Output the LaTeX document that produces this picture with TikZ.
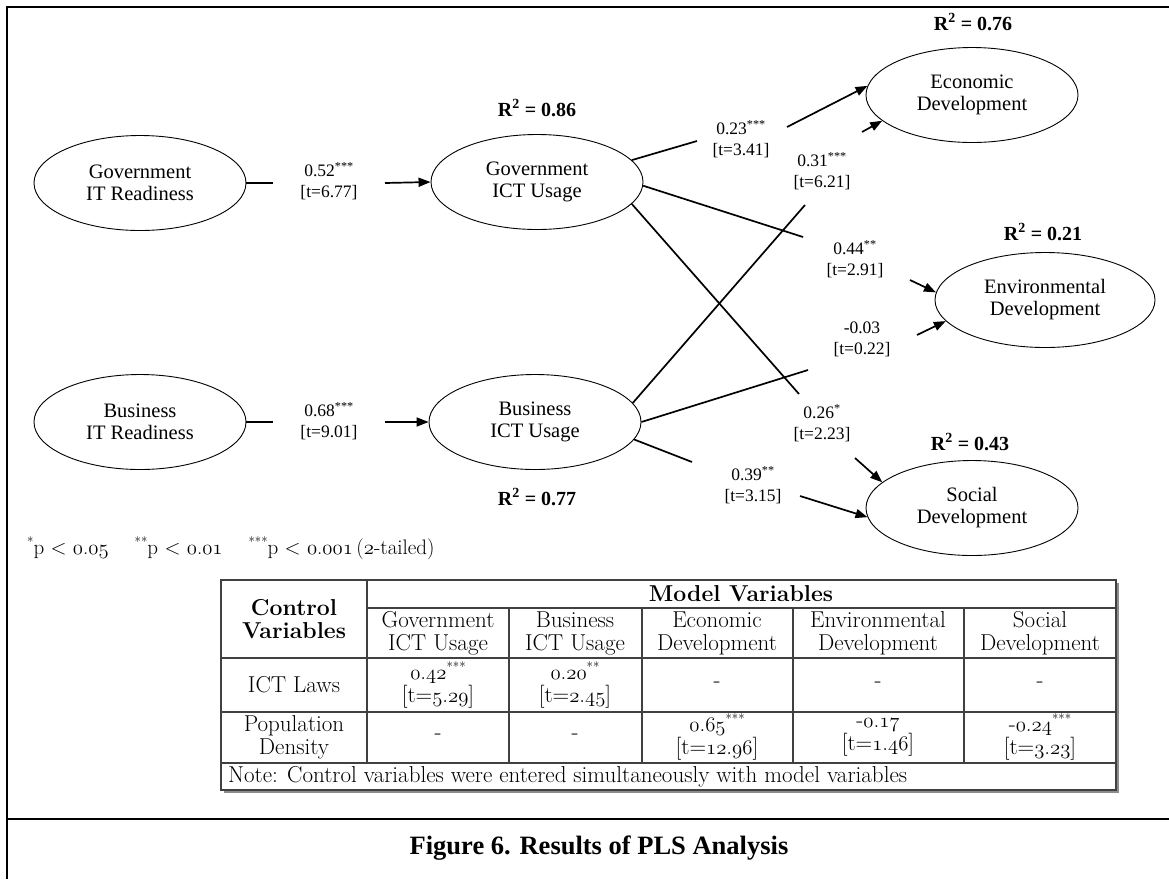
\documentclass[tikz,border=0pt]{standalone}
\usepackage{fontspec}
\newfontfamily\tnr{Liberation Serif}
\usetikzlibrary{shapes.geometric,arrows.meta}
\newcommand\osd[1]{{\fontencoding{OML}\fontfamily{cmm}\fontseries{m}\fontshape{it}\fontsize{20.74}{23}\selectfont #1}}
\newcommand\sst[1]{\raisebox{0.9ex}{\fontsize{13}{13}\selectfont #1}}
\begin{document}
\begin{tikzpicture}[x=1pt,y=-1pt,
 lv/.style={ellipse,draw,line width=0.9pt,minimum width=212pt,minimum height=95pt,inner sep=0pt,align=center,font=\tnr\fontsize{20.5}{22}\selectfont},
 coef/.style={align=center,inner sep=0pt,font=\tnr\fontsize{17.5}{21}\selectfont},
 rsq/.style={inner sep=0pt,font=\tnr\bfseries\fontsize{20}{22}\selectfont},
 seg/.style={line width=1.7pt},
 arr/.style={line width=1.7pt,-{Triangle[length=12pt,width=9pt]}},
 cell/.style={align=center,inner sep=0pt,font=\fontsize{23}{23}\selectfont},
 bcell/.style={align=center,inner sep=0pt,font=\bfseries\fontsize{23}{23}\selectfont},
 tline/.style={draw=black!75,line width=1.4pt},
 frame/.style={line width=2pt}]
\useasboundingbox (0,0) rectangle (1169,879);
% frame
\draw[frame] (7,879) -- (7,7) -- (1169,7);
\draw[frame] (7,819) -- (1169,819);
% latent variables
\node[lv] (govit) at (140,183) {Government\\IT Readiness};
\node[lv] (busit) at (140,422) {Business\\IT Readiness};
\node[lv] (govict) at (537,182) {Government\\ICT Usage};
\node[lv] (busict) at (535,422) {Business\\ICT Usage};
\node[lv] (econ) at (972,95) {Economic\\Development};
\node[lv,minimum width=220pt] (env) at (1045,300) {Environmental\\Development};
\node[lv] (soc) at (972,508) {Social\\Development};
% R squared
\node[rsq] (r76) at (973,22) {R\textsuperscript{2} = 0.76};
\node[rsq] (r86) at (537,108) {R\textsuperscript{2} = 0.86};
\node[rsq] (r21) at (1043,232) {R\textsuperscript{2} = 0.21};
\node[rsq] (r43) at (970,442) {R\textsuperscript{2} = 0.43};
\node[rsq] (r77) at (537,497) {R\textsuperscript{2} = 0.77};
% coefficients
\node[coef] (c52) at (329,181) {0.52\textsuperscript{***}\\{}[t=6.77]};
\node[coef] (c68) at (329,421) {0.68\textsuperscript{***}\\{}[t=9.01]};
\node[coef] (c23) at (741,139) {0.23\textsuperscript{***}\\{}[t=3.41]};
\node[coef] (c31) at (822,171) {0.31\textsuperscript{***}\\{}[t=6.21]};
\node[coef] (c44) at (855,259) {0.44\textsuperscript{**}\\{}[t=2.91]};
\node[coef] (c03) at (862,339) {-0.03\\{}[t=0.22]};
\node[coef] (c26) at (822,423) {0.26\textsuperscript{*}\\{}[t=2.23]};
\node[coef] (c39) at (753,485) {0.39\textsuperscript{**}\\{}[t=3.15]};
% free ends
\coordinate (a1) at (273,183); \coordinate (a2) at (385,183);
\coordinate (b1) at (273,422); \coordinate (b2) at (385,422);
\coordinate (s23) at (697,141); \coordinate (t23) at (787,127);
\coordinate (s31) at (805,205); \coordinate (t31) at (862,132);
\coordinate (s44) at (803,237); \coordinate (t44) at (910,280);
\coordinate (s03) at (808,370); \coordinate (t03) at (917,335);
\coordinate (s26) at (799,394); \coordinate (t26) at (855,458);
\coordinate (s39) at (692,462); \coordinate (t39) at (800,496);
% connectors
\draw[seg] (govit.east) -- (a1); \draw[arr] (a2) -- (govict.west);
\draw[seg] (busit.east) -- (b1); \draw[arr] (b2) -- (busict.west);
\draw[seg] (govict.13) -- (s23); \draw[arr] (t23) -- (econ.175);
\draw[seg] (busict.11) -- (s31); \draw[arr] (t31) -- (econ.196);
\draw[seg] (govict.358) -- (s44); \draw[arr] (t44) -- (env.176);
\draw[seg] (busict.0) -- (s03); \draw[arr] (t03) -- (env.192);
\draw[seg] (govict.347) -- (s26); \draw[arr] (t26) -- (soc.164);
\draw[seg] (busict.350) -- (s39); \draw[arr] (t39) -- (soc.185);
% footnote
\node[anchor=west,inner sep=0pt,font=\fontsize{21}{22}\selectfont] (fn) at (27,548)
  {\sst{*}p < \osd{0}.\osd{05}\hspace{26pt}\sst{**}p < \osd{0}.\osd{01}\hspace{26pt}\sst{***}p < \osd{0}.\osd{001}\,(\osd{2}-tailed)};
% table
\fill[black!45] (224,583) rectangle (1119,793);
\fill[white] (221,580) rectangle (1116,790);
\draw[tline] (221,580) rectangle (1116,790);
\draw[tline] (367,608) -- (1116,608);
\draw[tline] (221,658) -- (1116,658);
\draw[tline] (221,712) -- (1116,712);
\draw[tline] (221,763) -- (1116,763);
\draw[tline] (367,580) -- (367,763);
\foreach \x in {509,642,793,964} \draw[tline] (\x,608) -- (\x,763);
\node[bcell] (hcv) at (294,619) {Control\\Variables};
\node[bcell] (hmv) at (741,594) {Model Variables};
\node[cell] (h1) at (438,633) {Government\\ICT Usage};
\node[cell] (h2) at (575,633) {Business\\ICT Usage};
\node[cell] (h3) at (717,633) {Economic\\Development};
\node[cell] (h4) at (878,633) {Environmental\\Development};
\node[cell] (h5) at (1040,633) {Social\\Development};
\node[cell] (r1) at (294,685) {ICT Laws};
\node[cell] (r11) at (438,685) {\osd{0}.\osd{42}\sst{***}\\{}[t=\osd{5}.\osd{29}]};
\node[cell] (r12) at (575,685) {\osd{0}.\osd{20}\sst{**}\\{}[t=\osd{2}.\osd{45}]};
\node[cell] (r13) at (717,685) {-};
\node[cell] (r14) at (878,685) {-};
\node[cell] (r15) at (1040,685) {-};
\node[cell] (r2) at (294,737) {Population\\Density};
\node[cell] (r21c) at (438,737) {-};
\node[cell] (r22) at (575,737) {-};
\node[cell] (r23) at (717,737) {\osd{0}.\osd{65}\sst{***}\\{}[t=\osd{12}.\osd{96}]};
\node[cell] (r24) at (878,737) {-\osd{0}.\osd{17}\\{}[t=\osd{1}.\osd{46}]};
\node[cell] (r25) at (1040,737) {-\osd{0}.\osd{24}\sst{***}\\{}[t=\osd{3}.\osd{23}]};
\node[cell,anchor=west] (note) at (228,777) {Note: Control variables were entered simultaneously with model variables};
% caption
\node[inner sep=0pt,font=\tnr\bfseries\fontsize{26.5}{29}\selectfont] (cap) at (599,848) {Figure 6. Results of PLS Analysis};
\end{tikzpicture}
\end{document}
